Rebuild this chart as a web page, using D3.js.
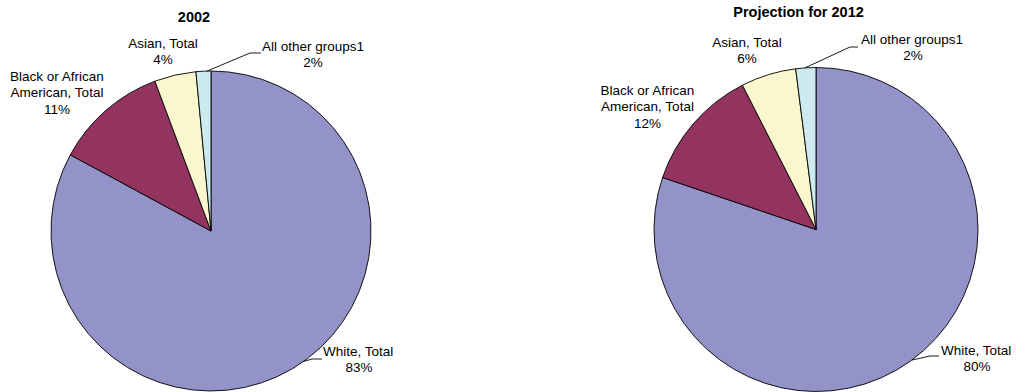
<!DOCTYPE html>
<html>
<head>
<meta charset="utf-8">
<script src="https://cdn.jsdelivr.net/npm/d3@7"></script>
<style>
    body { margin: 0; background: #fff; }
    svg { display: block; font-family: Arial, "Liberation Sans", sans-serif; }
</style>
</head>
<body>
<svg id="chart" width="1017" height="392"></svg>
<script>
// data
const categories = ['White, Total', 'Black or African American, Total', 'Asian, Total', 'All other groups1'];
const values2002 = [82.9, 11.4, 4.2, 1.5];
const values2012 = [80.2, 12.3, 5.5, 2.0];
const titles = ['2002', 'Projection for 2012'];

const colors = ['#9393c9', '#933360', '#faf7ce', '#cdebef'];

// layout per chart (label positions are hand-placed like the original)
const charts = [
    {
        values: values2002, title: titles[0],
        cx: 211, cy: 231, r: 160, titleX: 194, titleY: 21.5,
        labels: [
            {lines: ['White, Total'], x: 323, y: 356, anchor: 'start', pctX: 359,
             leader: {elbow: [312, 359], start: [322, 359], angle: 144.6}},
            {lines: ['Black or African', 'American, Total'], x: 57, y: 81, anchor: 'middle'},
            {lines: ['Asian, Total'], x: 163, y: 48, anchor: 'middle'},
            {lines: ['All other groups1'], x: 262, y: 50.5, anchor: 'start', pctX: 313,
             leader: {elbow: [250, 53], start: [261, 53], angle: -1.4}}
        ]
    },
    {
        values: values2012, title: titles[1],
        cx: 816, cy: 229.5, r: 162, titleX: 798.5, titleY: 17,
        labels: [
            {lines: ['White, Total'], x: 941, y: 354.5, anchor: 'start', pctX: 977,
             leader: {elbow: [930, 356], start: [939, 356], angle: 143.7}},
            {lines: ['Black or African', 'American, Total'], x: 647.5, y: 95, anchor: 'middle'},
            {lines: ['Asian, Total'], x: 747, y: 46.5, anchor: 'middle'},
            {lines: ['All other groups1'], x: 861, y: 43.5, anchor: 'start', pctX: 913,
             leader: {elbow: [850, 47], start: [858, 47], angle: -3.9}}
        ]
    }
];

const svg = d3.select('#chart');
const lineH = 16.3;

const pie = d3.pie()
    .sort(null)
    .value((d) => d);

charts.forEach((chart) => {
    const arc = d3.arc().innerRadius(0).outerRadius(chart.r);
    const g = svg.append('g')
        .attr('transform', `translate(${chart.cx}, ${chart.cy})`);

    g.selectAll('path')
      .data(pie(chart.values))
      .enter()
      .append('path')
        .attr('d', arc)
        .attr('fill', (d, i) => colors[i])
        .attr('stroke', '#000')
        .attr('stroke-width', 0.9)
        .attr('stroke-linejoin', 'round');

    svg.append('text')
        .attr('x', chart.titleX)
        .attr('y', chart.titleY)
        .attr('text-anchor', 'middle')
        .attr('font-size', '14.5px')
        .attr('font-weight', 'bold')
        .attr('fill', '#000')
        .text(chart.title);

    chart.labels.forEach((lab, i) => {
        const pct = Math.round(chart.values[i]) + '%';
        const t = svg.append('text')
            .attr('font-size', '13.5px')
            .attr('fill', '#000');
        lab.lines.forEach((ln, k) => {
            t.append('tspan')
                .attr('x', lab.x)
                .attr('y', lab.y + k * lineH)
                .attr('text-anchor', lab.anchor)
                .text(ln);
        });
        t.append('tspan')
            .attr('x', lab.pctX != null ? lab.pctX : lab.x)
            .attr('y', lab.y + lab.lines.length * lineH)
            .attr('text-anchor', 'middle')
            .text(pct);

        if (lab.leader) {
            const a = lab.leader.angle * Math.PI / 180;
            const end = [chart.cx + chart.r * Math.sin(a), chart.cy - chart.r * Math.cos(a)];
            svg.append('path')
                .attr('d', d3.line()([lab.leader.start, lab.leader.elbow, end]))
                .attr('fill', 'none')
                .attr('stroke', '#000')
                .attr('stroke-width', 0.9);
        }
    });
});
</script>
</body>
</html>
